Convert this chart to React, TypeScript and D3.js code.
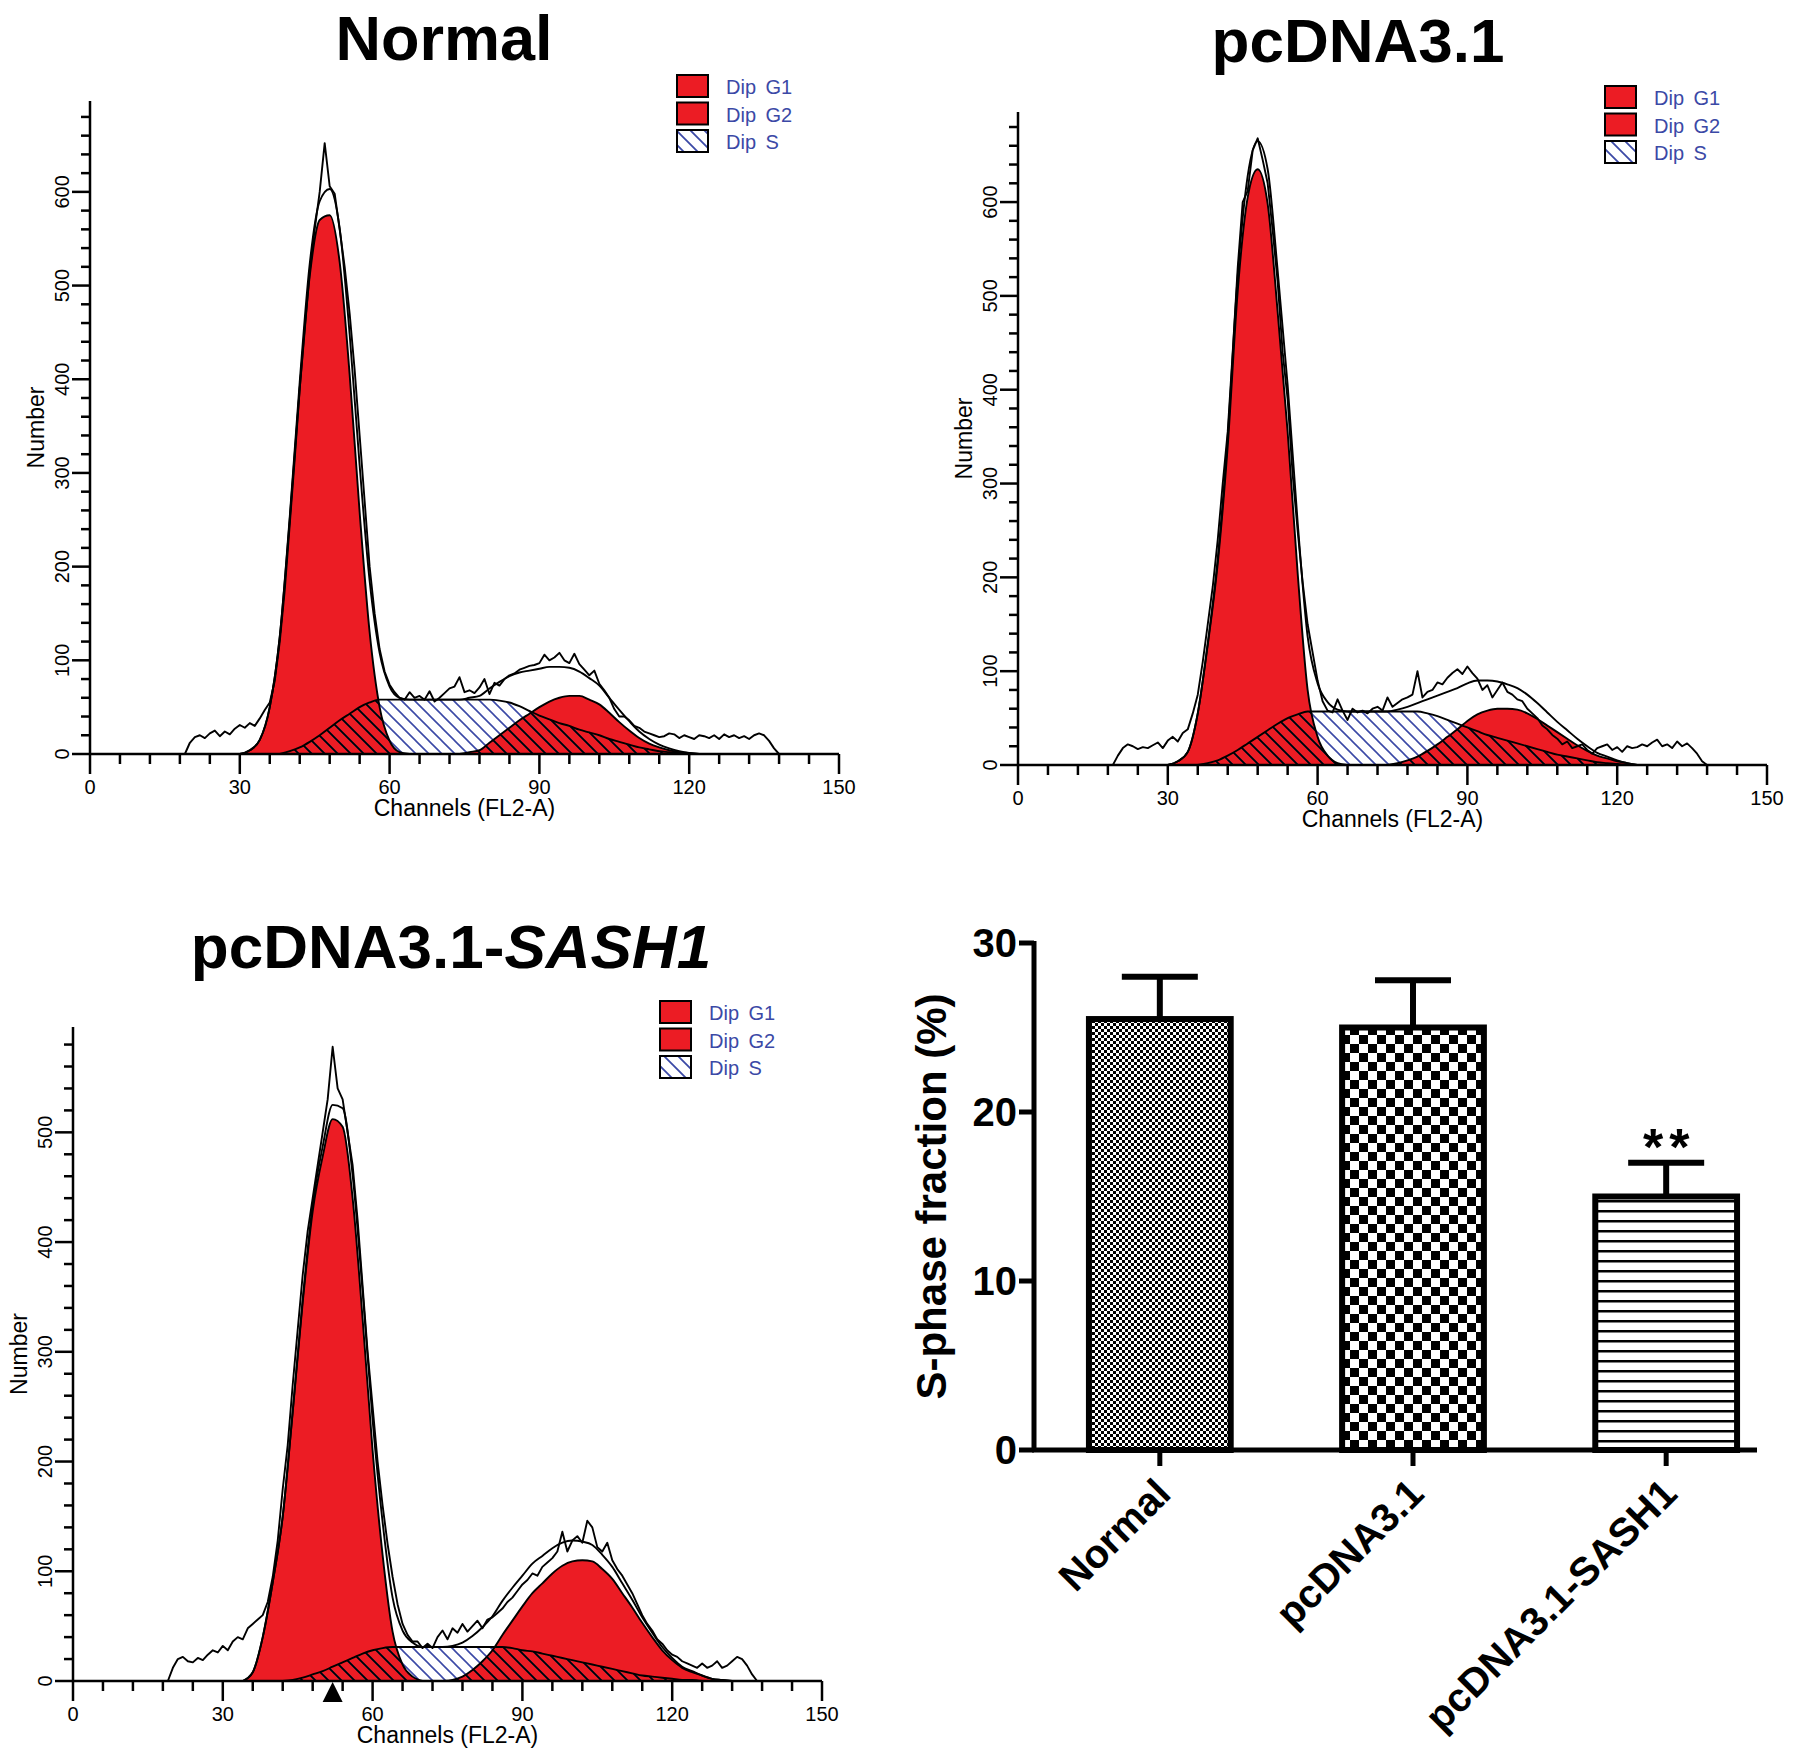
import * as d3 from 'd3';

// fitted model components are sampled every 2 channels from channel 30 (missing tail = 0)
const fitChannels = d3.range(30, 134, 2);
// raw histograms are sampled every channel from channel 18
const rawStartChannel = 18;

const channelTicks = d3.range(0, 151, 6);
const channelLabels = [0, 30, 60, 90, 120, 150];

// ---- Normal ----
const normalRaw = [
  0, 0, 12, 18, 20, 17, 22, 25, 19, 24,
  21, 27, 31, 28, 33, 30, 38, 47, 55, 78,
  120, 175, 245, 315, 390, 452, 515, 560, 600, 652,
  606, 598, 560, 520, 470, 410, 340, 270, 200, 150,
  112, 88, 74, 66, 60, 58, 66, 60, 62, 58,
  67, 56, 60, 65, 70, 72, 82, 66, 68, 65,
  71, 80, 64, 76, 73, 80, 84, 86, 90, 92,
  94, 95, 97, 106, 100, 103, 108, 100, 97, 107,
  96, 90, 84, 89, 75, 68, 60, 48, 40, 40,
  36, 30, 28, 24, 22, 20, 18, 19, 22, 21,
  17, 20, 18, 16, 20, 19, 17, 20, 16, 21,
  18, 20, 17, 19, 16, 20, 22, 20, 14, 6,
  0,
];
const normalG1 = [0, 4, 15, 50, 125, 250, 390, 510, 570, 575, 525, 405, 258, 130, 50, 14, 2, 0];
const normalS = [
  0, 0, 0, 0, 0, 3, 7, 13, 20, 28, 36, 43, 50, 55, 58, 58, 58, 58, 58, 58,
  58, 58, 58, 58, 58, 58, 57, 55, 51, 46, 41, 37, 33, 30, 26, 23, 20, 16, 13, 10,
  7, 5, 3, 2, 1, 0,
];
const normalG2 = [
  0, 0, 0, 0, 0, 0, 0, 0, 0, 0, 0, 0, 0, 0, 0, 0, 0, 0, 0, 0, 0, 0, 0,
  2, 4, 12, 20, 28, 36, 43, 50, 56, 60, 62, 62, 58, 53, 44, 34, 25, 17, 11, 7, 4, 2, 1, 0,
];

// ---- pcDNA3.1 ----
const vectorRaw = [
  0, 0, 10, 18, 22, 20, 17, 19, 18, 21,
  24, 18, 26, 30, 25, 34, 38, 55, 75, 110,
  150, 190, 240, 300, 355, 440, 530, 600, 612, 655,
  668, 645, 620, 570, 515, 440, 390, 310, 250, 195,
  150, 120, 90, 68, 58, 56, 70, 58, 48, 60,
  56, 58, 55, 60, 62, 58, 72, 62, 66, 70,
  72, 75, 100, 72, 78, 80, 88, 86, 93, 98,
  102, 97, 105, 98, 92, 80, 85, 72, 80, 88,
  78, 75, 70, 68, 60, 55, 50, 42, 38, 32,
  28, 22, 25, 18, 20, 22, 16, 12, 18, 20,
  22, 16, 19, 14, 20, 18, 19, 22, 20, 24,
  27, 20, 22, 18, 25, 20, 23, 18, 12, 4,
  0,
];
const vectorG1 = [0, 4, 14, 55, 128, 215, 340, 505, 605, 635, 598, 483, 355, 205, 80, 30, 10, 2, 0];
const vectorS = [
  0, 0, 0, 0, 2, 5, 10, 16, 23, 30, 37, 44, 50, 54, 57, 57, 57, 57, 57, 57,
  57, 57, 57, 57, 57, 57, 55, 52, 48, 44, 40, 36, 32, 29, 26, 23, 20, 17, 14, 11,
  9, 7, 5, 3, 2, 1, 0,
];
const vectorG2 = [
  0, 0, 0, 0, 0, 0, 0, 0, 0, 0, 0, 0, 0, 0, 0, 0, 0, 0, 0, 0, 0, 0, 0,
  2, 5, 9, 15, 22, 30, 38, 47, 54, 58, 60, 60, 59, 55, 49, 42, 35, 28, 21, 15, 10, 7, 4, 2, 0,
];

// ---- pcDNA3.1-SASH1 ----
const sashRaw = [
  0, 0, 12, 20, 22, 18, 17, 21, 19, 24,
  28, 26, 32, 28, 36, 40, 38, 48, 52, 56,
  60, 72, 95, 128, 175, 215, 270, 320, 370, 410,
  440, 470, 500, 530, 578, 540, 530, 500, 470, 420,
  360, 300, 250, 200, 160, 125, 95, 70, 52, 42,
  36, 36, 30, 34, 30, 40, 46, 38, 48, 44,
  52, 45, 50, 55, 48, 56, 58, 62, 66, 72,
  76, 82, 88, 92, 98, 96, 104, 108, 112, 118,
  136, 118, 128, 132, 126, 146, 140, 122, 118, 126,
  110, 102, 96, 88, 80, 70, 60, 52, 46, 38,
  34, 28, 24, 22, 18, 16, 14, 12, 16, 12,
  14, 18, 12, 14, 18, 22, 20, 14, 6, 0,
  0,
];
const sashG1 = [0, 0, 0, 8, 40, 90, 150, 245, 345, 428, 478, 512, 505, 440, 330, 210, 115, 45, 15, 4, 0];
const sashS = [
  0, 0, 0, 0, 0, 0, 0, 1, 3, 6, 9, 13, 17, 21, 25, 28, 30, 31, 31, 31,
  31, 31, 31, 31, 31, 31, 31, 31, 31, 30, 28, 27, 25, 23, 21, 19, 17, 15, 13, 11,
  9, 7, 5, 4, 3, 2, 1, 1, 0,
];
const sashG2 = [
  0, 0, 0, 0, 0, 0, 0, 0, 0, 0, 0, 0, 0, 0, 0, 0, 0, 0, 0, 0, 0, 0, 0,
  1, 4, 10, 18, 28, 42, 55, 68, 80, 89, 98, 105, 109, 110, 109, 102, 93, 80, 67, 53, 40, 28,
  19, 12, 8, 5, 2, 1, 0,
];
const sashMarkerChannel = 52;

const legendItems = ['Dip G1', 'Dip G2', 'Dip S'];

// ---- S-phase bar chart ----
const barGroups = ['Normal', 'pcDNA3.1', 'pcDNA3.1-SASH1'];
const barMeans = [25.5, 25.0, 15.0];
const barErrors = [2.5, 2.8, 2.0];
const barTicks = [0, 10, 20, 30];
const barPatterns = ['fineChecker', 'coarseChecker', 'hLines'];

const RED = '#ec1c24';
const BLUE = '#3b49a6';
const FONT = '"Liberation Sans", Arial, sans-serif';

interface HistogramProps {
  id: string;
  left: number;
  baseline: number;
  top: number;
  yMax: number;
  raw: number[];
  g1: number[];
  g2: number[];
  s: number[];
  marker?: number;
}

function Histogram({ id, left, baseline, top, yMax, raw, g1, g2, s, marker }: HistogramProps) {
  const x = d3.scaleLinear().domain([0, 150]).range([left, left + 749]);
  const y = d3.scaleLinear().domain([0, yMax]).range([baseline, top]);

  const pad = (arr: number[]) => fitChannels.map((_, i) => arr[i] ?? 0);
  const G1 = pad(g1);
  const G2 = pad(g2);
  const S = pad(s);
  const fit = fitChannels.map((_, i) => G1[i] + G2[i] + S[i]);

  // keep only the stretch where a component is non-zero (plus one zero each side)
  const trim = (vals: number[]): [number, number][] => {
    const pairs = fitChannels.map((c, i) => [c, vals[i]] as [number, number]);
    const a = pairs.findIndex(p => p[1] > 0);
    let b = a;
    pairs.forEach((p, i) => { if (p[1] > 0) b = i; });
    return pairs.slice(Math.max(0, a - 1), Math.min(pairs.length, b + 2));
  };

  const area = d3.area<[number, number]>()
    .x(d => x(d[0]))
    .y0(baseline)
    .y1(d => y(d[1]))
    .curve(d3.curveMonotoneX);
  const line = d3.line<[number, number]>()
    .x(d => x(d[0]))
    .y(d => y(d[1]))
    .curve(d3.curveMonotoneX);
  const rawLine = d3.line<number>()
    .x((_, i) => x(rawStartChannel + i))
    .y(d => y(d));

  const g1Pts = trim(G1);
  const g2Pts = trim(G2);
  const sPts = trim(S);
  const fitPts = trim(fit);

  const yTicks = d3.range(0, yMax + 0.1, 20);
  const legendX = left + 587;
  const legendY = top - 26;

  return (
    <g>
      <defs>
        <clipPath id={`clipS-${id}`}>
          <path d={area(sPts) || ''} />
        </clipPath>
      </defs>

      {/* filled peaks */}
      <path d={area(g1Pts) || ''} fill={RED} />
      <path d={area(g2Pts) || ''} fill={RED} />
      <path d={area(sPts) || ''} fill="url(#hatchBlue)" />
      <g clipPath={`url(#clipS-${id})`}>
        <path d={area(g1Pts) || ''} fill="url(#hatchBlack)" />
        <path d={area(g2Pts) || ''} fill="url(#hatchBlack)" />
      </g>

      {/* outlines */}
      <path d={line(sPts) || ''} fill="none" stroke="#000" strokeWidth={1.9} />
      <path d={line(g1Pts) || ''} fill="none" stroke="#000" strokeWidth={1.9} />
      <path d={line(g2Pts) || ''} fill="none" stroke="#000" strokeWidth={1.9} />
      <path d={line(fitPts) || ''} fill="none" stroke="#000" strokeWidth={1.9} />
      <path d={rawLine(raw) || ''} fill="none" stroke="#000" strokeWidth={1.9} strokeLinejoin="round" />

      {/* y axis */}
      <line x1={left} x2={left} y1={baseline} y2={top} stroke="#000" strokeWidth={2.5} />
      {yTicks.map(v => (
        <line key={v} x1={left - (v % 100 === 0 ? 18 : 9)} x2={left} y1={y(v)} y2={y(v)}
          stroke="#000" strokeWidth={2.5} />
      ))}
      {yTicks.filter(v => v % 100 === 0).map(v => (
        <text key={v} transform={`translate(${left - 21},${y(v)}) rotate(-90)`} textAnchor="middle"
          fontFamily={FONT} fontSize={20}>{v}</text>
      ))}
      <text transform={`translate(${left - 46},${(baseline + top) / 2}) rotate(-90)`} textAnchor="middle"
        fontFamily={FONT} fontSize={23}>Number</text>

      {/* x axis */}
      <line x1={x(0)} x2={x(150)} y1={baseline} y2={baseline} stroke="#000" strokeWidth={2.5} />
      {channelTicks.map(v => (
        <line key={v} x1={x(v)} x2={x(v)} y1={baseline} y2={baseline + (v % 30 === 0 ? 20 : 10)}
          stroke="#000" strokeWidth={2.5} />
      ))}
      {channelLabels.map(v => (
        <text key={v} x={x(v)} y={baseline + 40} textAnchor="middle" fontFamily={FONT} fontSize={20}>{v}</text>
      ))}
      <text x={x(75)} y={baseline + 62} textAnchor="middle" fontFamily={FONT} fontSize={23}>Channels (FL2-A)</text>

      {marker !== undefined && (
        <path d={`M${x(marker)},${baseline + 1}l10,20h-20z`} fill="#000" />
      )}

      {/* legend */}
      {legendItems.map((name, i) => (
        <g key={name}>
          <rect x={legendX} y={legendY + i * 27.5} width={31} height={22}
            fill={i < 2 ? RED : 'url(#hatchLegend)'} stroke="#000" strokeWidth={2} />
          <text x={legendX + 49} y={legendY + i * 27.5 + 19} fontFamily={FONT} fontSize={20}
            fill={BLUE} wordSpacing={4}>{name}</text>
        </g>
      ))}
    </g>
  );
}

function BarChart() {
  const left = 1034;
  const base = 1450;
  const x = d3.scaleBand<string>().domain(barGroups).range([1034, 1792]).paddingInner(0.44).paddingOuter(0.217);
  const y = d3.scaleLinear().domain([0, 30]).range([base, 943]);
  const bw = x.bandwidth();

  return (
    <g>
      {barGroups.map((g, i) => {
        const cx = (x(g) || 0) + bw / 2;
        return (
          <g key={g}>
            <line x1={cx} x2={cx} y1={y(barMeans[i])} y2={y(barMeans[i] + barErrors[i])} stroke="#000" strokeWidth={6} />
            <line x1={cx - 38} x2={cx + 38} y1={y(barMeans[i] + barErrors[i])} y2={y(barMeans[i] + barErrors[i])}
              stroke="#000" strokeWidth={6} />
            <rect x={x(g)} y={y(barMeans[i])} width={bw} height={base - y(barMeans[i])}
              fill={`url(#${barPatterns[i]})`} stroke="#000" strokeWidth={6} />
            <line x1={cx} x2={cx} y1={base} y2={base + 16} stroke="#000" strokeWidth={5} />
            <text transform={`translate(${cx + 13},${base + 46}) rotate(-45)`} textAnchor="end"
              fontFamily={FONT} fontWeight="bold" fontSize={40}>{g}</text>
          </g>
        );
      })}
      <text x={(x(barGroups[2]) || 0) + bw / 2 + 3} y={y(barMeans[2] + barErrors[2]) + 2} textAnchor="middle"
        fontFamily={FONT} fontWeight="bold" fontSize={52} letterSpacing={6}>**</text>

      <line x1={left} x2={left} y1={y(30) - 2} y2={base} stroke="#000" strokeWidth={5} />
      <line x1={left - 2} x2={1757} y1={base} y2={base} stroke="#000" strokeWidth={5} />
      {barTicks.map(v => (
        <g key={v}>
          <line x1={left - 15} x2={left} y1={y(v)} y2={y(v)} stroke="#000" strokeWidth={5} />
          <text x={left - 17} y={y(v)} dy="0.36em" textAnchor="end" fontFamily={FONT}
            fontWeight="bold" fontSize={40}>{v}</text>
        </g>
      ))}
      <text transform={`translate(946,${(y(30) + base) / 2}) rotate(-90)`} textAnchor="middle"
        fontFamily={FONT} fontWeight="bold" fontSize={42}>S-phase fraction (%)</text>
    </g>
  );
}

export default function App() {
  return (
    <>
      <style>{`body{margin:0;background:#fff}`}</style>
      <svg width={1795} height={1761} viewBox="0 0 1795 1761" style={{ display: 'block' }}>
        <defs>
          <pattern id="hatchBlue" patternUnits="userSpaceOnUse" width={13} height={13}>
            <path d="M0,0L13,13M-2,11L2,15M11,-2L15,2" stroke={BLUE} strokeWidth={1.6} />
          </pattern>
          <pattern id="hatchBlack" patternUnits="userSpaceOnUse" width={13} height={13}>
            <path d="M0,0L13,13M-2,11L2,15M11,-2L15,2" stroke="#000" strokeWidth={1.8} />
          </pattern>
          <pattern id="hatchLegend" patternUnits="userSpaceOnUse" width={14} height={14}>
            <rect width={14} height={14} fill="#fff" />
            <path d="M0,0L14,14M-2,12L2,16M12,-2L16,2" stroke={BLUE} strokeWidth={1.8} />
          </pattern>
          <pattern id="fineChecker" patternUnits="userSpaceOnUse" width={6} height={6}>
            <rect width={6} height={6} fill="#fff" />
            <rect width={3} height={3} fill="#000" />
            <rect x={3} y={3} width={3} height={3} fill="#000" />
          </pattern>
          <pattern id="coarseChecker" patternUnits="userSpaceOnUse" width={18} height={18}>
            <rect width={18} height={18} fill="#fff" />
            <rect width={9} height={9} fill="#000" />
            <rect x={9} y={9} width={9} height={9} fill="#000" />
          </pattern>
          <pattern id="hLines" patternUnits="userSpaceOnUse" width={10} height={10}>
            <rect width={10} height={10} fill="#fff" />
            <rect width={10} height={2.5} fill="#000" />
          </pattern>
        </defs>

        <text x={444} y={60} textAnchor="middle" fontFamily={FONT} fontWeight="bold" fontSize={63}>Normal</text>
        <text x={1358} y={62} textAnchor="middle" fontFamily={FONT} fontWeight="bold" fontSize={62}>pcDNA3.1</text>
        <text x={451} y={968} textAnchor="middle" fontFamily={FONT} fontWeight="bold" fontSize={62}>
          pcDNA3.1-<tspan fontStyle="italic">SASH1</tspan>
        </text>

        <Histogram id="normal" left={90} baseline={754} top={101} yMax={697}
          raw={normalRaw} g1={normalG1} g2={normalG2} s={normalS} />
        <Histogram id="vector" left={1018} baseline={765} top={112} yMax={696}
          raw={vectorRaw} g1={vectorG1} g2={vectorG2} s={vectorS} />
        <Histogram id="sash" left={73} baseline={1681} top={1027} yMax={596}
          raw={sashRaw} g1={sashG1} g2={sashG2} s={sashS} marker={sashMarkerChannel} />

        <BarChart />
      </svg>
    </>
  );
}
